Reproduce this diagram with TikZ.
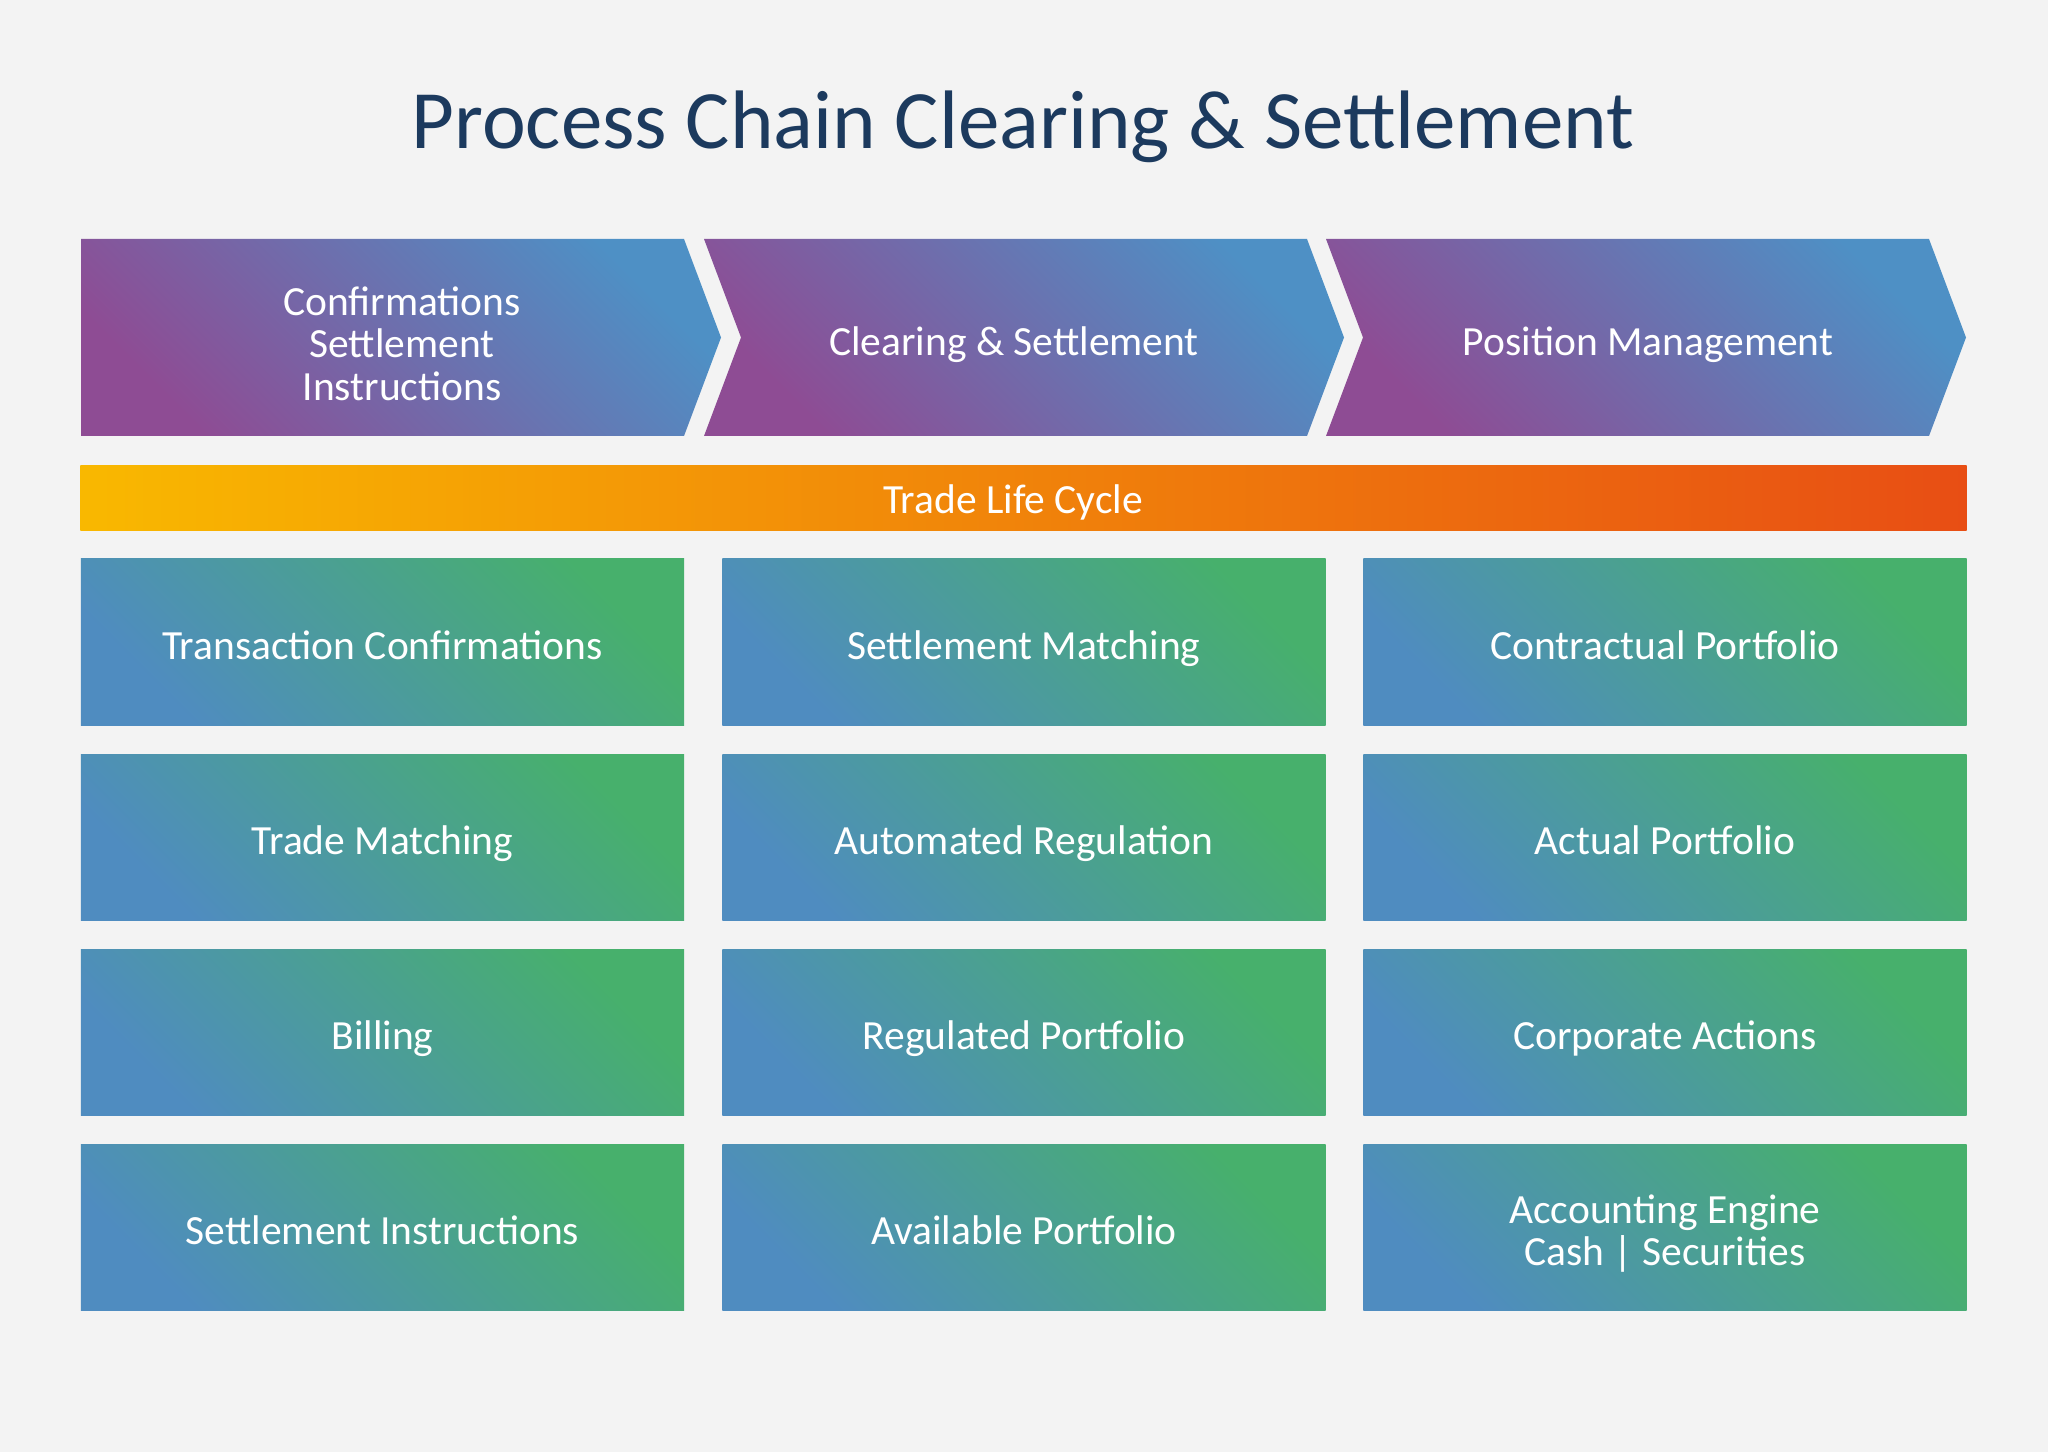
\documentclass[tikz,border=0pt]{standalone}
\usepackage{fontspec}
\setmainfont{Carlito}
\definecolor{pagegray}{HTML}{F3F3F3}
\definecolor{titlenavy}{HTML}{1C3A5E}
\definecolor{chevplum}{HTML}{8E4C94}
\definecolor{chevblue}{HTML}{4E90C5}
\definecolor{taskblue}{HTML}{4F8CC0}
\definecolor{taskgreen}{HTML}{47B06C}
\definecolor{cycamber}{HTML}{F9B800}
\definecolor{cycrust}{HTML}{E84E14}
\tikzset{
  chev/.style={bottom color=chevplum, top color=chevblue, shading angle=-45},
  chevtxt/.style={text=white, align=center, inner sep=0pt, text height=7.46pt, text depth=0pt,
    font=\fontsize{11.8}{12.05}\selectfont},
  taskb/.style={rectangle, bottom color=taskblue, top color=taskgreen, shading angle=-45,
    minimum width=6.03cm, minimum height=1.66cm, inner sep=0pt, text=white,
    text height=9.72pt, text depth=0pt, align=center, font=\fontsize{11.8}{12.05}\selectfont},
  multi/.style={text height={}, text depth={}},
  cycb/.style={rectangle, left color=cycamber, right color=cycrust, inner sep=0pt,
    minimum width=18.85cm, minimum height=0.64cm},
  cyclab/.style={text=white, inner sep=0pt, text height=8.66pt, text depth=0pt,
    font=\fontsize{11.8}{12.05}\selectfont},
  ttl/.style={text=titlenavy, inner sep=0pt, font=\fontsize{23.6}{28}\selectfont},
}

\begin{document}
\begin{tikzpicture}[x=0.01cm, y=-0.01cm]
    \fill[pagegray] (0,0) rectangle (2048,1452);
    \useasboundingbox (0,0) rectangle (2048,1452);
    % title
    \node[ttl, anchor=base] (title) at (1023,149) {Process Chain Clearing \& Settlement};
    % process chevrons
    \shade[chev] (81,239) -- (684,239) -- (721,337.5) -- (684,436) -- (81,436) -- cycle;
    \shade[chev] (704,239) -- (1307,239) -- (1344,337.5) -- (1307,436) -- (704,436) -- (741,337.5) -- cycle;
    \shade[chev] (1326,239) -- (1929,239) -- (1966,337.5) -- (1929,436) -- (1326,436) -- (1363,337.5) -- cycle;
    \node[chevtxt, multi] (confirm) at (402,343.5) {Confirmations\\Settlement\\Instructions};
    \node[chevtxt] (clearing) at (1014,342) {Clearing \& Settlement};
    \node[chevtxt] (position) at (1648,342) {Position Management};
    % trade life cycle
    \node[cycb] (cycle) at (1023.5,498) {};
    \node[cyclab] (cyclelab) at (1013,498) {Trade Life Cycle};
    % confirmations column
    \node[taskb] (txconf) at (382.5,642) {Transaction Confirmations};
    \node[taskb] (trmatch) at (382.5,837.5) {Trade Matching};
    \node[taskb] (billing) at (382.5,1032.5) {Billing};
    \node[taskb] (setinstr) at (382.5,1227.5) {Settlement Instructions};
    % clearing column
    \node[taskb] (setmatch) at (1024,642) {Settlement Matching};
    \node[taskb] (autoreg) at (1024,837.5) {Automated Regulation};
    \node[taskb] (regport) at (1024,1032.5) {Regulated Portfolio};
    \node[taskb] (availport) at (1024,1227.5) {Available Portfolio};
    % position column
    \node[taskb] (contport) at (1665,642) {Contractual Portfolio};
    \node[taskb] (actport) at (1665,837.5) {Actual Portfolio};
    \node[taskb] (corpact) at (1665,1032.5) {Corporate Actions};
    \node[taskb, multi] (accteng) at (1665,1227.5) {};
    \node[text=white, inner sep=0pt, align=center, font=\fontsize{11.8}{12.05}\selectfont]
      (acctxt) at (1665,1233.5) {Accounting Engine\\Cash | Securities};
\end{tikzpicture}
\end{document}
